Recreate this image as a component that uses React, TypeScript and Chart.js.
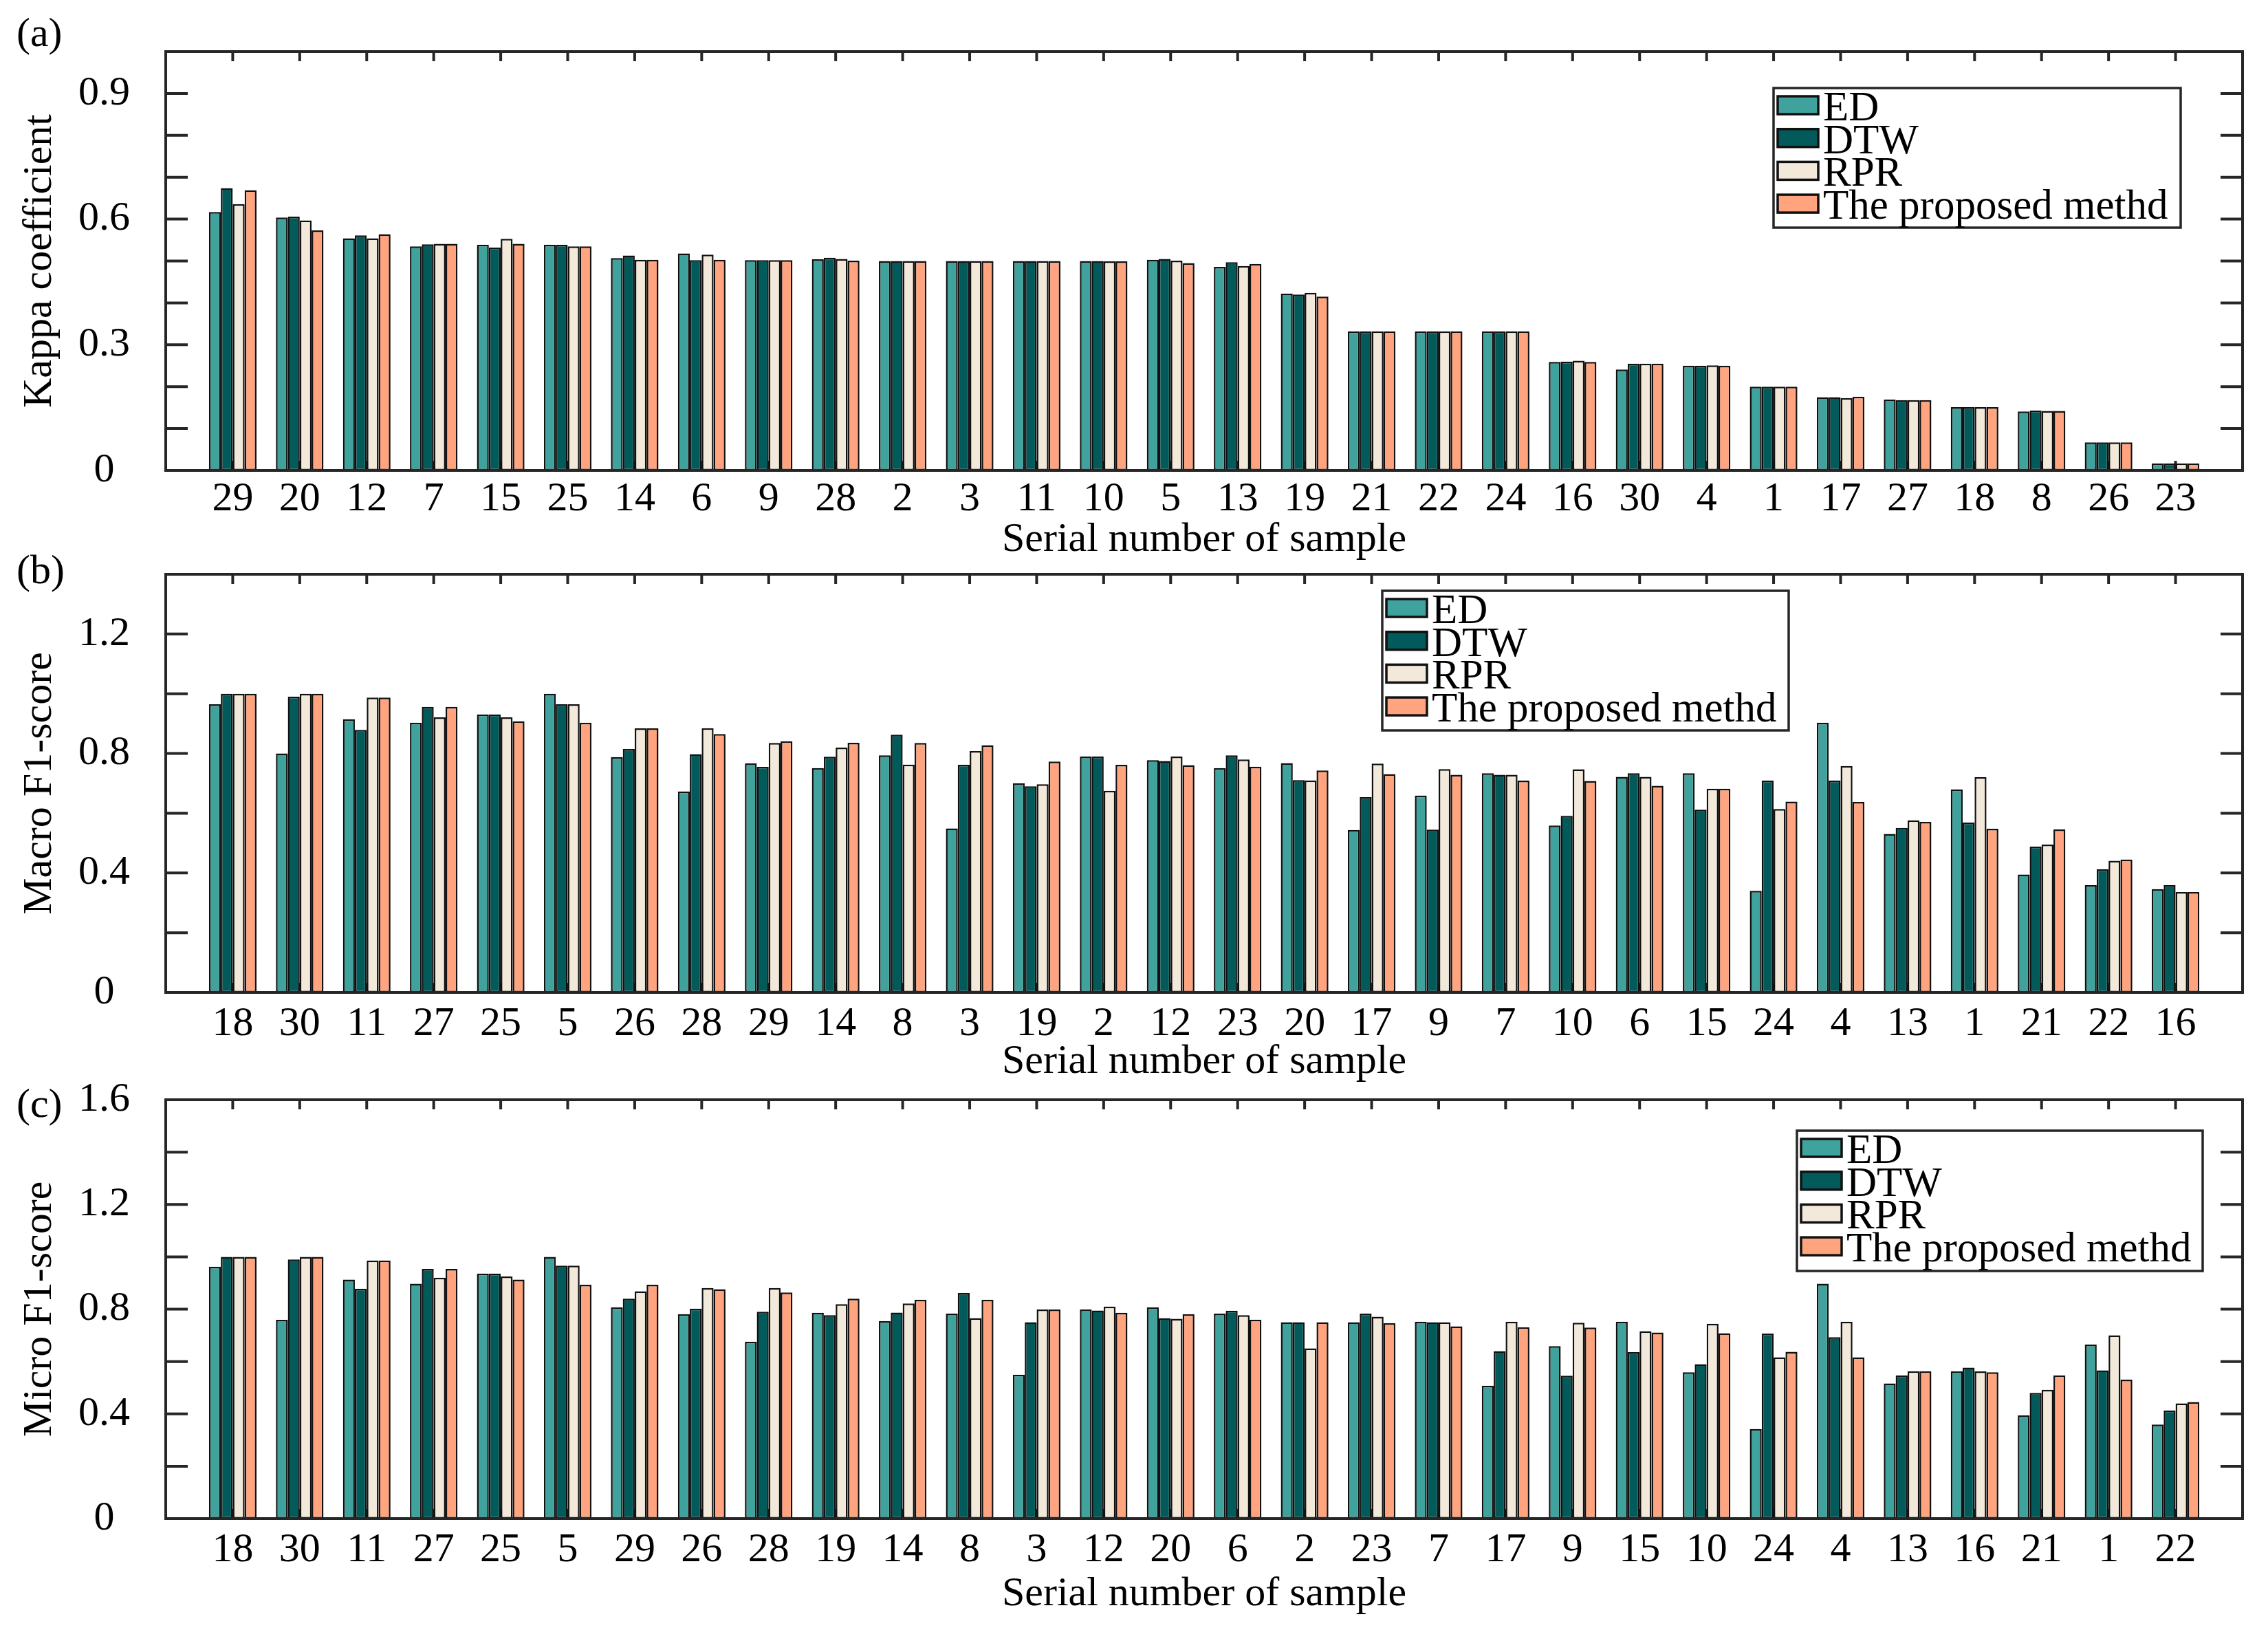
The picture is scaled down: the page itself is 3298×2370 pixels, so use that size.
import { useEffect, useRef } from 'react'
import { Chart, registerables } from 'chart.js'

Chart.register(...registerables)

const FONT = '"Liberation Serif", "Times New Roman", serif'
const INK = '#262626'

const seriesNames = ['ED', 'DTW', 'RPR', 'The proposed methd']
const seriesColors = ['#40A29D', '#025B5A', '#F3E9DA', '#FFA47E']

// (a) Kappa coefficient
const kappaSamples = ['29', '20', '12', '7', '15', '25', '14', '6', '9', '28', '2', '3', '11', '10', '5', '13', '19', '21', '22', '24', '16', '30', '4', '1', '17', '27', '18', '8', '26', '23']
const kappaED = [0.617, 0.604, 0.554, 0.535, 0.539, 0.539, 0.507, 0.518, 0.502, 0.504, 0.5, 0.5, 0.5, 0.5, 0.503, 0.486, 0.422, 0.332, 0.332, 0.332, 0.259, 0.241, 0.25, 0.2, 0.175, 0.169, 0.151, 0.141, 0.067, 0.017]
const kappaDTW = [0.674, 0.606, 0.561, 0.54, 0.532, 0.539, 0.513, 0.502, 0.502, 0.508, 0.5, 0.5, 0.5, 0.5, 0.505, 0.497, 0.42, 0.332, 0.332, 0.332, 0.26, 0.255, 0.25, 0.2, 0.175, 0.168, 0.151, 0.143, 0.067, 0.017]
const kappaRPR = [0.636, 0.597, 0.554, 0.541, 0.553, 0.535, 0.503, 0.515, 0.502, 0.505, 0.5, 0.5, 0.5, 0.499, 0.501, 0.488, 0.424, 0.332, 0.332, 0.332, 0.262, 0.255, 0.251, 0.2, 0.173, 0.168, 0.151, 0.142, 0.067, 0.017]
const kappaProp = [0.669, 0.573, 0.564, 0.541, 0.541, 0.535, 0.503, 0.503, 0.502, 0.501, 0.5, 0.5, 0.5, 0.499, 0.495, 0.493, 0.415, 0.332, 0.332, 0.332, 0.259, 0.255, 0.25, 0.2, 0.176, 0.168, 0.151, 0.142, 0.067, 0.017]

// (b) Macro F1-score
const macroSamples = ['18', '30', '11', '27', '25', '5', '26', '28', '29', '14', '8', '3', '19', '2', '12', '23', '20', '17', '9', '7', '10', '6', '15', '24', '4', '13', '1', '21', '22', '16']
const macroED = [0.965, 0.8, 0.915, 0.903, 0.931, 1.0, 0.788, 0.673, 0.767, 0.751, 0.794, 0.549, 0.7, 0.79, 0.778, 0.751, 0.768, 0.544, 0.659, 0.734, 0.559, 0.722, 0.734, 0.34, 0.903, 0.531, 0.68, 0.395, 0.359, 0.346]
const macroDTW = [1.0, 0.99, 0.879, 0.956, 0.931, 0.965, 0.815, 0.798, 0.755, 0.789, 0.863, 0.762, 0.69, 0.79, 0.775, 0.794, 0.711, 0.654, 0.545, 0.729, 0.591, 0.734, 0.612, 0.709, 0.709, 0.551, 0.569, 0.488, 0.413, 0.359]
const macroRPR = [1.0, 1.0, 0.987, 0.921, 0.921, 0.965, 0.884, 0.885, 0.835, 0.82, 0.763, 0.808, 0.697, 0.675, 0.79, 0.78, 0.71, 0.766, 0.748, 0.729, 0.747, 0.722, 0.682, 0.614, 0.758, 0.576, 0.721, 0.495, 0.441, 0.336]
const macroProp = [1.0, 1.0, 0.987, 0.956, 0.908, 0.903, 0.884, 0.865, 0.841, 0.836, 0.835, 0.828, 0.773, 0.762, 0.761, 0.756, 0.743, 0.731, 0.729, 0.709, 0.708, 0.692, 0.682, 0.639, 0.638, 0.571, 0.548, 0.546, 0.445, 0.336]

// (c) Micro F1-score
const microSamples = ['18', '30', '11', '27', '25', '5', '29', '26', '28', '19', '14', '8', '3', '12', '20', '6', '2', '23', '7', '17', '9', '15', '10', '24', '4', '13', '16', '21', '1', '22']
const microED = [0.962, 0.759, 0.913, 0.897, 0.936, 1.0, 0.807, 0.781, 0.676, 0.786, 0.755, 0.783, 0.55, 0.799, 0.807, 0.783, 0.75, 0.75, 0.752, 0.508, 0.659, 0.752, 0.559, 0.342, 0.897, 0.516, 0.562, 0.394, 0.665, 0.359]
const microDTW = [1.0, 0.99, 0.878, 0.954, 0.936, 0.966, 0.84, 0.802, 0.79, 0.777, 0.787, 0.862, 0.75, 0.795, 0.766, 0.794, 0.75, 0.783, 0.75, 0.64, 0.546, 0.636, 0.59, 0.707, 0.693, 0.547, 0.577, 0.48, 0.566, 0.413]
const microRPR = [1.0, 1.0, 0.986, 0.92, 0.925, 0.966, 0.868, 0.881, 0.881, 0.819, 0.822, 0.766, 0.799, 0.81, 0.763, 0.777, 0.65, 0.771, 0.75, 0.752, 0.748, 0.716, 0.744, 0.616, 0.752, 0.563, 0.562, 0.492, 0.7, 0.44]
const microProp = [1.0, 1.0, 0.986, 0.954, 0.913, 0.893, 0.893, 0.876, 0.864, 0.84, 0.836, 0.836, 0.799, 0.786, 0.781, 0.76, 0.75, 0.747, 0.734, 0.731, 0.73, 0.711, 0.708, 0.637, 0.616, 0.563, 0.559, 0.547, 0.531, 0.445]

type Panel = {
  letter: string
  yTitle: string
  samples: string[]
  values: number[][]
  yMax: number
  yStep: number
  labelEvery: number // label every n tenths
  top: number
  height: number
  plotTop: number
  plotBottom: number
  letterY: number
  tickPad: number
  titlePad: number
  legend: [number, number, number, number]
}

const panels: Panel[] = [
  {
    letter: '(a)', yTitle: 'Kappa coefficient', samples: kappaSamples,
    values: [kappaED, kappaDTW, kappaRPR, kappaProp],
    yMax: 1.0, yStep: 0.1, labelEvery: 3,
    top: 0, height: 830, plotTop: 75, plotBottom: 684, letterY: 67,
    tickPad: 6, titlePad: 9, legend: [2579, 128, 592, 203],
  },
  {
    letter: '(b)', yTitle: 'Macro F1-score', samples: macroSamples,
    values: [macroED, macroDTW, macroRPR, macroProp],
    yMax: 1.4, yStep: 0.2, labelEvery: 4,
    top: 790, height: 810, plotTop: 45, plotBottom: 653, letterY: 58,
    tickPad: 10, titlePad: 20, legend: [2010, 69, 591, 203],
  },
  {
    letter: '(c)', yTitle: 'Micro F1-score', samples: microSamples,
    values: [microED, microDTW, microRPR, microProp],
    yMax: 1.6, yStep: 0.2, labelEvery: 4,
    top: 1545, height: 825, plotTop: 54, plotBottom: 663, letterY: 79,
    tickPad: 10, titlePad: 16, legend: [2613, 99, 590, 204],
  },
]

const WIDTH = 3298
const PLOT_LEFT = 241
const PLOT_RIGHT = 3261

function framePlugin(p: Panel) {
  return {
    id: 'frame',
    beforeDatasetsDraw(chart: any) {
      const { ctx, chartArea: a, scales } = chart
      ctx.save()
      ctx.strokeStyle = INK
      ctx.lineWidth = 4
      ctx.beginPath()
      p.samples.forEach((_, i) => {
        const x = scales.x.getPixelForValue(i + 1)
        ctx.moveTo(x, a.bottom)
        ctx.lineTo(x, a.bottom - 14)
      })
      ctx.stroke()
      ctx.restore()
    },
    afterDatasetsDraw(chart: any) {
      const { ctx, chartArea: a, scales } = chart
      ctx.save()
      ctx.strokeStyle = INK
      ctx.lineWidth = 4
      ctx.beginPath()
      p.samples.forEach((_, i) => {
        const x = scales.x.getPixelForValue(i + 1)
        ctx.moveTo(x, a.top)
        ctx.lineTo(x, a.top + 14)
      })
      scales.y.ticks.forEach((t: any) => {
        const y = scales.y.getPixelForValue(t.value)
        ctx.moveTo(a.left, y)
        ctx.lineTo(a.left + 32, y)
        ctx.moveTo(a.right, y)
        ctx.lineTo(a.right - 32, y)
      })
      ctx.stroke()
      ctx.strokeRect(a.left, a.top, a.right - a.left, a.bottom - a.top)
      ctx.restore()
    },
    afterDraw(chart: any) {
      const { ctx } = chart
      const [bx, by, bw, bh] = p.legend
      ctx.save()
      ctx.fillStyle = '#fff'
      ctx.fillRect(bx, by, bw, bh)
      ctx.strokeStyle = INK
      ctx.lineWidth = 3.5
      ctx.strokeRect(bx, by, bw, bh)
      ctx.font = `61px ${FONT}`
      ctx.textBaseline = 'alphabetic'
      ctx.textAlign = 'left'
      seriesNames.forEach((name, k) => {
        const cy = by + 25 + k * 47.7
        ctx.fillStyle = seriesColors[k]
        ctx.fillRect(bx + 6, cy - 13, 59, 26)
        ctx.strokeStyle = '#111'
        ctx.lineWidth = 3.5
        ctx.strokeRect(bx + 6, cy - 13, 59, 26)
        ctx.fillStyle = '#000'
        ctx.fillText(name, bx + 72, cy + 22)
      })
      ctx.font = `60px ${FONT}`
      ctx.fillText(p.letter, 24, p.letterY)
      ctx.restore()
    },
  }
}

function PanelChart({ p }: { p: Panel }) {
  const canvasRef = useRef<HTMLCanvasElement>(null)

  useEffect(() => {
    if (!canvasRef.current) return
    const font = { family: FONT, size: 60 }
    const chart = new Chart(canvasRef.current, {
      type: 'bar',
      data: {
        labels: ['', ...p.samples, ''],
        datasets: p.values.map((vals, k) => ({
          label: seriesNames[k],
          data: [null, ...vals, null],
          backgroundColor: seriesColors[k],
          borderColor: '#111',
          borderWidth: 2.5,
          borderSkipped: false,
          categoryPercentage: 0.71,
          barPercentage: 1,
        })),
      },
      options: {
        animation: false,
        responsive: true,
        maintainAspectRatio: false,
        devicePixelRatio: 1,
        events: [],
        layout: { padding: { top: p.plotTop, right: WIDTH - PLOT_RIGHT, bottom: 0, left: 0 } },
        plugins: { legend: { display: false }, tooltip: { enabled: false } },
        scales: {
          x: {
            offset: false,
            afterFit: (s: any) => {
              s.height = p.height - p.plotBottom
              s.paddingLeft = 0
              s.paddingRight = 0
            },
            grid: { display: false, drawTicks: false },
            border: { display: false },
            ticks: { autoSkip: false, maxRotation: 0, minRotation: 0, font, color: '#000', padding: p.tickPad },
            title: { display: true, text: 'Serial number of sample', font, color: '#000', padding: { top: 0, bottom: p.titlePad } },
          },
          y: {
            min: 0,
            max: p.yMax,
            afterFit: (s: any) => {
              s.width = PLOT_LEFT
              s.paddingTop = 0
              s.paddingBottom = 0
            },
            grid: { display: false, drawTicks: false },
            border: { display: false },
            ticks: {
              stepSize: p.yStep,
              autoSkip: false,
              font,
              color: '#000',
              padding: 52,
              crossAlign: 'center',
              callback: (v: any) => {
                const tenths = Math.round(Number(v) * 10)
                return tenths % p.labelEvery === 0 ? String(tenths / 10) : ''
              },
            },
            title: { display: true, text: p.yTitle, font, color: '#000', padding: { top: 22, bottom: 0 } },
          },
        },
      },
      plugins: [framePlugin(p)],
    } as any)
    return () => chart.destroy()
  }, [p])

  return (
    <div style={{ position: 'absolute', left: 0, top: p.top, width: WIDTH, height: p.height }}>
      <canvas ref={canvasRef}></canvas>
    </div>
  )
}

export default function App() {
  return (
    <div style={{ position: 'absolute', left: 0, top: 0, width: WIDTH, height: 2370, background: '#fff', overflow: 'hidden' }}>
      {panels.map((p) => (
        <PanelChart key={p.letter} p={p} />
      ))}
    </div>
  )
}
